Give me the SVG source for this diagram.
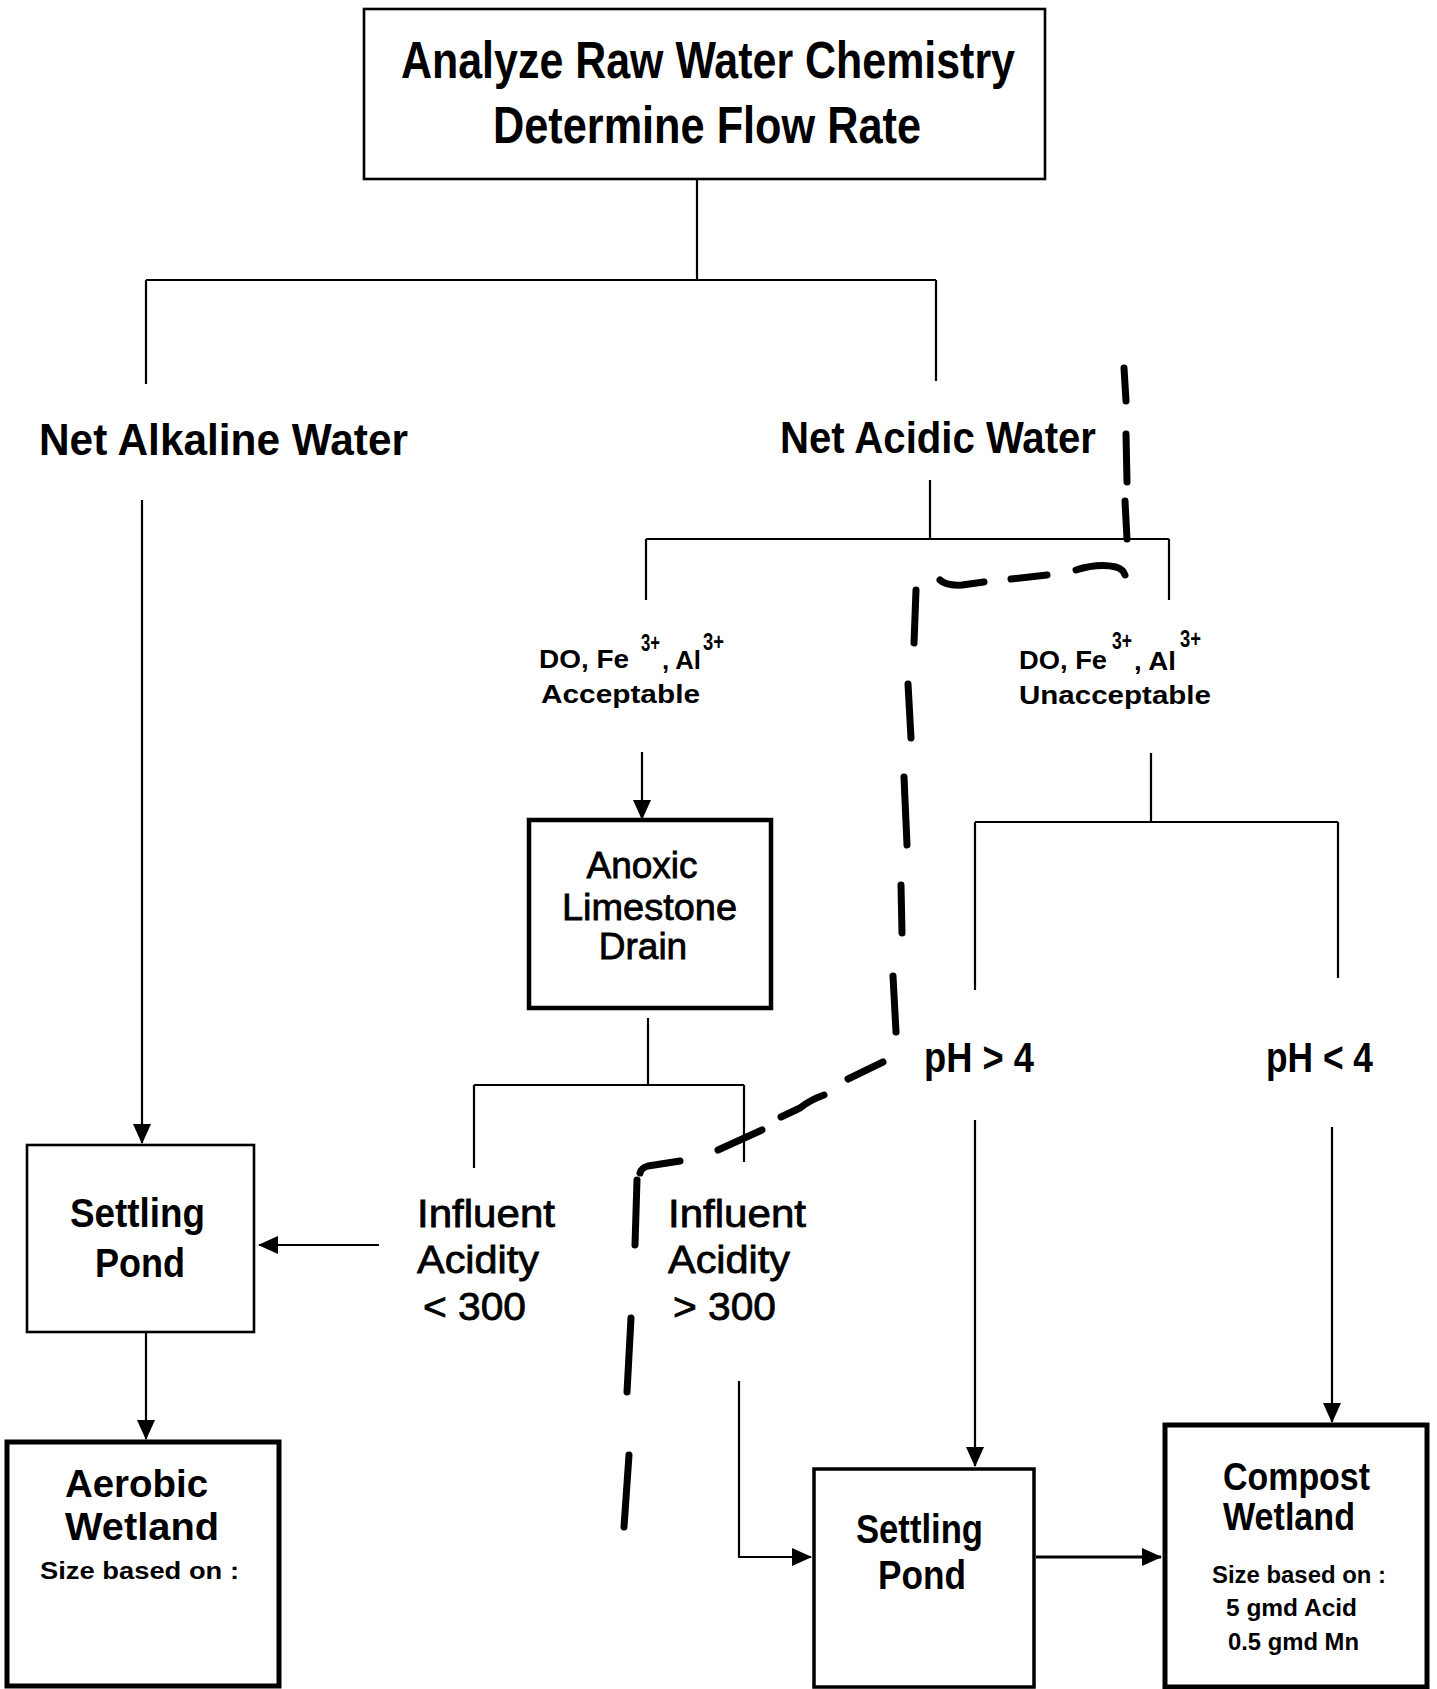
<svg xmlns="http://www.w3.org/2000/svg" width="1437" height="1689" viewBox="0 0 1437 1689">
<style>
  .bg { fill: #ffffff; }
  .box { fill: #ffffff; stroke: #000; }
  .ln { fill: none; stroke: #000; stroke-width: 2.2; }
  .dash { fill: none; stroke: #000; stroke-width: 7; stroke-linecap: round; stroke-linejoin: round; }
  text { font-family: "Liberation Sans", Arial, sans-serif; fill: #000; }
  .hd { font-size: 52px; font-weight: bold; }
  .br { font-size: 45px; font-weight: bold; }
  .sm { font-size: 25px; font-weight: bold; }
  .sup { font-size: 23px; }
  .md { font-size: 37px; stroke: #000; stroke-width: 0.8; }
  .sp { font-size: 40px; font-weight: bold; }
  .inf { font-size: 39px; stroke: #000; stroke-width: 0.8; }
  .ph { font-size: 42px; font-weight: bold; }
  .wt { font-size: 38px; font-weight: bold; }
  .sz { font-size: 23px; font-weight: bold; }
</style>
<defs>
  <marker id="ah" markerUnits="userSpaceOnUse" markerWidth="20" markerHeight="18" refX="19" refY="9" orient="auto">
    <path d="M0,0 L20,9 L0,18 Z" fill="#000"/>
  </marker>
</defs>
<rect class="bg" x="0" y="0" width="1437" height="1689"/>

<g id="connectors">
  <path class="ln" d="M697,180 V280 M146,280 H936 M146,280 V384 M936,280 V381"/>
  <path class="ln" d="M142,500 V1143" marker-end="url(#ah)"/>
  <path class="ln" d="M930,480 V539 M646,539 H1169 M646,539 V600 M1169,539 V600"/>
  <path class="ln" d="M642,752 V819" marker-end="url(#ah)"/>
  <path class="ln" d="M648,1018 V1085 M474,1085 H744 M474,1085 V1168 M744,1085 V1162"/>
  <path class="ln" d="M379,1245 H259" marker-end="url(#ah)"/>
  <path class="ln" d="M146,1332 V1439" marker-end="url(#ah)"/>
  <path class="ln" d="M1151,753 V822 M975,822 H1338 M975,822 V990 M1338,822 V978"/>
  <path class="ln" d="M975,1120 V1466" marker-end="url(#ah)"/>
  <path class="ln" d="M1332,1127 V1422" marker-end="url(#ah)"/>
  <path class="ln" d="M739,1381 V1557 H811" marker-end="url(#ah)"/>
  <path class="ln" d="M1036,1557 H1161" marker-end="url(#ah)" style="stroke-width:3"/>
</g>

<g id="dashed-boundary">
  <path class="dash" d="M1124,368 L1126,401"/>
  <path class="dash" d="M1126,434 L1127,482"/>
  <path class="dash" d="M1125,501 L1127,539"/>
  <path class="dash" d="M1076,570 Q1098,563 1116,567 Q1123,569 1125,575"/>
  <path class="dash" d="M1011,579 L1047,575"/>
  <path class="dash" d="M940,580 Q946,586 962,585 L984,582"/>
  <path class="dash" d="M916,590 L914,643"/>
  <path class="dash" d="M908,684 L911,738"/>
  <path class="dash" d="M904,777 L907,845"/>
  <path class="dash" d="M901,885 L902,933"/>
  <path class="dash" d="M893,976 L896,1032"/>
  <path class="dash" d="M883,1062 L848,1079"/>
  <path class="dash" d="M824,1095 Q810,1100 800,1108 L781,1117"/>
  <path class="dash" d="M762,1130 L718,1150"/>
  <path class="dash" d="M680,1161 L648,1166 Q641,1168 640,1173"/>
  <path class="dash" d="M637,1180 L635,1245"/>
  <path class="dash" d="M631,1318 L627,1392"/>
  <path class="dash" d="M629,1455 L624,1527"/>
</g>

<g id="node-analyze">
  <rect class="box" x="364" y="9" width="681" height="170" stroke-width="2.6"/>
  <text class="hd" x="401" y="78" textLength="614" lengthAdjust="spacingAndGlyphs">Analyze Raw Water Chemistry</text>
  <text class="hd" x="493" y="143" textLength="428" lengthAdjust="spacingAndGlyphs">Determine Flow Rate</text>
</g>

<g id="node-alkaline">
  <text class="br" x="39" y="455" textLength="369" lengthAdjust="spacingAndGlyphs">Net Alkaline Water</text>
</g>

<g id="node-acidic">
  <text class="br" x="780" y="453" textLength="316" lengthAdjust="spacingAndGlyphs">Net Acidic Water</text>
</g>

<g id="node-acceptable">
  <text class="sm"><tspan x="539" y="668" textLength="90" lengthAdjust="spacingAndGlyphs">DO, Fe</tspan><tspan class="sup" x="641" y="651" font-weight="bold" textLength="19" lengthAdjust="spacingAndGlyphs">3+</tspan><tspan x="662" y="669" textLength="39" lengthAdjust="spacingAndGlyphs">, Al</tspan><tspan class="sup" x="703" y="650" font-weight="bold" textLength="21" lengthAdjust="spacingAndGlyphs">3+</tspan></text>
  <text class="sm" x="541" y="703" textLength="159" lengthAdjust="spacingAndGlyphs">Acceptable</text>
</g>

<g id="node-unacceptable">
  <text class="sm"><tspan x="1019" y="669" textLength="88" lengthAdjust="spacingAndGlyphs">DO, Fe</tspan><tspan class="sup" x="1112" y="649" font-weight="bold" textLength="20" lengthAdjust="spacingAndGlyphs">3+</tspan><tspan x="1134" y="670" textLength="42" lengthAdjust="spacingAndGlyphs">, Al</tspan><tspan class="sup" x="1180" y="647" font-weight="bold" textLength="21" lengthAdjust="spacingAndGlyphs">3+</tspan></text>
  <text class="sm" x="1019" y="704" textLength="192" lengthAdjust="spacingAndGlyphs">Unacceptable</text>
</g>

<g id="node-ald">
  <rect class="box" x="529" y="820" width="242" height="188" stroke-width="4.5"/>
  <text class="md" x="642" y="878" text-anchor="middle">Anoxic</text>
  <text class="md" x="562" y="920" textLength="175" lengthAdjust="spacingAndGlyphs">Limestone</text>
  <text class="md" x="643" y="959" text-anchor="middle">Drain</text>
</g>

<g id="node-settling1">
  <rect class="box" x="27" y="1145" width="227" height="187" stroke-width="2.6"/>
  <text class="sp" x="70" y="1227" textLength="135" lengthAdjust="spacingAndGlyphs">Settling</text>
  <text class="sp" x="95" y="1277" textLength="90" lengthAdjust="spacingAndGlyphs">Pond</text>
</g>

<g id="node-influent-low">
  <text class="inf" x="417" y="1227" textLength="138" lengthAdjust="spacingAndGlyphs">Influent</text>
  <text class="inf" x="417" y="1273" textLength="122" lengthAdjust="spacingAndGlyphs">Acidity</text>
  <text class="inf" x="423" y="1320" textLength="103" lengthAdjust="spacingAndGlyphs">&lt; 300</text>
</g>

<g id="node-influent-high">
  <text class="inf" x="668" y="1227" textLength="138" lengthAdjust="spacingAndGlyphs">Influent</text>
  <text class="inf" x="668" y="1273" textLength="122" lengthAdjust="spacingAndGlyphs">Acidity</text>
  <text class="inf" x="673" y="1320" textLength="103" lengthAdjust="spacingAndGlyphs">&gt; 300</text>
</g>

<g id="node-ph-high">
  <text class="ph" x="924" y="1072" textLength="110" lengthAdjust="spacingAndGlyphs">pH &gt; 4</text>
</g>

<g id="node-ph-low">
  <text class="ph" x="1266" y="1072" textLength="107" lengthAdjust="spacingAndGlyphs">pH &lt; 4</text>
</g>

<g id="node-aerobic">
  <rect class="box" x="7" y="1442" width="272" height="244" stroke-width="5"/>
  <text class="wt" x="65" y="1497" textLength="143" lengthAdjust="spacingAndGlyphs">Aerobic</text>
  <text class="wt" x="65" y="1540" textLength="154" lengthAdjust="spacingAndGlyphs">Wetland</text>
  <text class="sz" x="40" y="1579" textLength="199" lengthAdjust="spacingAndGlyphs">Size based on :</text>
</g>

<g id="node-settling2">
  <rect class="box" x="814" y="1469" width="220" height="218" stroke-width="3.5"/>
  <text class="sp" x="856" y="1543" textLength="127" lengthAdjust="spacingAndGlyphs">Settling</text>
  <text class="sp" x="878" y="1589" textLength="88" lengthAdjust="spacingAndGlyphs">Pond</text>
</g>

<g id="node-compost">
  <rect class="box" x="1165" y="1425" width="262" height="262" stroke-width="5"/>
  <text class="wt" x="1223" y="1490" textLength="147" lengthAdjust="spacingAndGlyphs">Compost</text>
  <text class="wt" x="1223" y="1530" textLength="132" lengthAdjust="spacingAndGlyphs">Wetland</text>
  <text class="sz" x="1212" y="1583" textLength="174" lengthAdjust="spacingAndGlyphs">Size based on :</text>
  <text class="sz" x="1226" y="1616" textLength="131" lengthAdjust="spacingAndGlyphs">5 gmd Acid</text>
  <text class="sz" x="1228" y="1650" textLength="131" lengthAdjust="spacingAndGlyphs">0.5 gmd Mn</text>
</g>
</svg>
